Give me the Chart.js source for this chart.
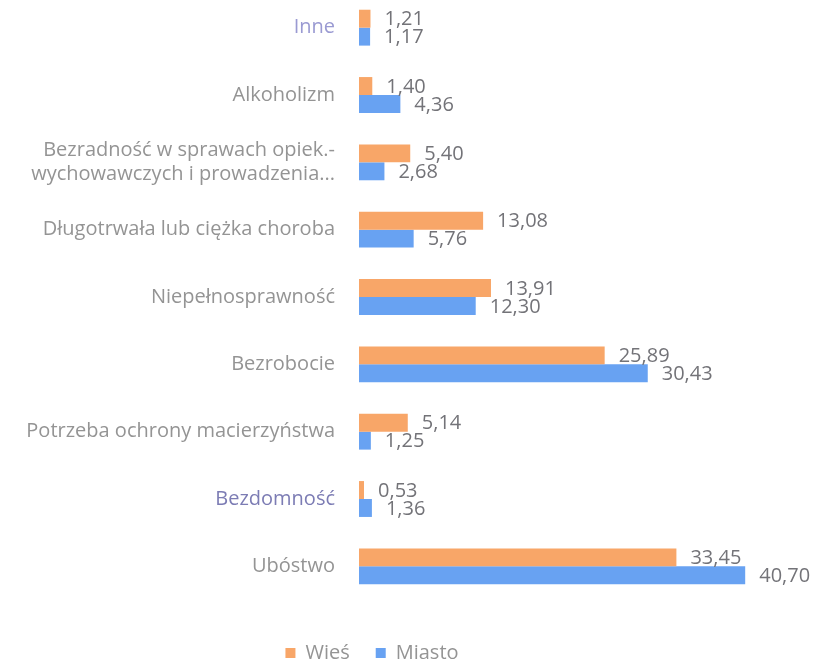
<!DOCTYPE html>
<html>
<head>
<meta charset="utf-8">
<script src="https://cdn.jsdelivr.net/npm/chart.js@4.4.1/dist/chart.umd.min.js"></script>
<style>
  html, body { margin: 0; padding: 0; background: #fff; overflow: hidden; }
  #wrap { position: absolute; left: 0; top: -6px; width: 821px; height: 679px; }
</style>
</head>
<body>
<div id="wrap"><canvas id="chart" width="821" height="679"></canvas></div>
<script>
const categories = [
    "Inne",
    "Alkoholizm",
    ["Bezradność w sprawach opiek.-", "wychowawczych i prowadzenia..."],
    "Długotrwała lub ciężka choroba",
    "Niepełnosprawność",
    "Bezrobocie",
    "Potrzeba ochrony macierzyństwa",
    "Bezdomność",
    "Ubóstwo"
];
const wiesValues = [1.21, 1.40, 5.40, 13.08, 13.91, 25.89, 5.14, 0.53, 33.45];
const miastoValues = [1.17, 4.36, 2.68, 5.76, 12.30, 30.43, 1.25, 1.36, 40.70];
const seriesNames = ["Wieś", "Miasto"];
const tickColors = ["#9a9ad2", "#949494", "#949494", "#949494", "#949494", "#949494", "#949494", "#7c7cb4", "#949494"];

// etykiety z wartościami przy słupkach
const valueLabels = {
    id: 'valueLabels',
    afterDatasetsDraw(chart) {
        const ctx = chart.ctx;
        ctx.save();
        ctx.font = '20px "Open Sans"';
        ctx.fillStyle = '#737378';
        ctx.textBaseline = 'middle';
        ctx.textAlign = 'left';
        chart.data.datasets.forEach((ds, i) => {
            chart.getDatasetMeta(i).data.forEach((bar, j) => {
                const txt = ds.data[j].toFixed(2).replace('.', ',');
                ctx.fillText(txt, bar.x + 14, bar.y + 1);
            });
        });
        ctx.restore();
    }
};

// legenda przesunięta trochę w lewo
const legendShift = {
    id: 'legendShift',
    afterLayout(chart) {
        chart.legend.left -= 21;
        chart.legend.right -= 21;
    }
};

document.addEventListener("DOMContentLoaded", () => {
    const ctx = document.getElementById('chart').getContext('2d');
    new Chart(ctx, {
        type: 'bar',
        data: {
            labels: categories,
            datasets: [{
                label: seriesNames[0],
                data: wiesValues,
                backgroundColor: '#f8a668',
                borderWidth: 0
            }, {
                label: seriesNames[1],
                data: miastoValues,
                backgroundColor: '#68a2f2',
                borderWidth: 0
            }]
        },
        options: {
            indexAxis: 'y',
            responsive: false,
            animation: false,
            devicePixelRatio: 1,
            layout: { padding: { left: 0, right: 35, top: 0, bottom: 0 } },
            datasets: { bar: { barPercentage: 1, categoryPercentage: 0.533 } },
            scales: {
                x: {
                    min: 0,
                    max: 45,
                    position: 'bottom',
                    ticks: { display: false },
                    grid: { display: false },
                    border: { display: false },
                    afterFit(scale) { scale.height = 17; }
                },
                y: {
                    ticks: {
                        padding: 24,
                        color: (c) => tickColors[c.index],
                        font: { family: '"Open Sans"', size: 20 }
                    },
                    grid: { display: false, drawTicks: false },
                    border: { display: false },
                    afterFit(scale) {
                        scale.width = 359;
                        scale.paddingTop = 0;
                        scale.paddingBottom = 0;
                    }
                }
            },
            plugins: {
                legend: {
                    position: 'bottom',
                    labels: {
                        boxWidth: 10,
                        boxHeight: 10,
                        color: '#949494',
                        font: { family: '"Open Sans"', size: 20 },
                        padding: 26
                    }
                },
                tooltip: { enabled: false }
            }
        },
        plugins: [valueLabels, legendShift]
    });
});
</script>
</body>
</html>
